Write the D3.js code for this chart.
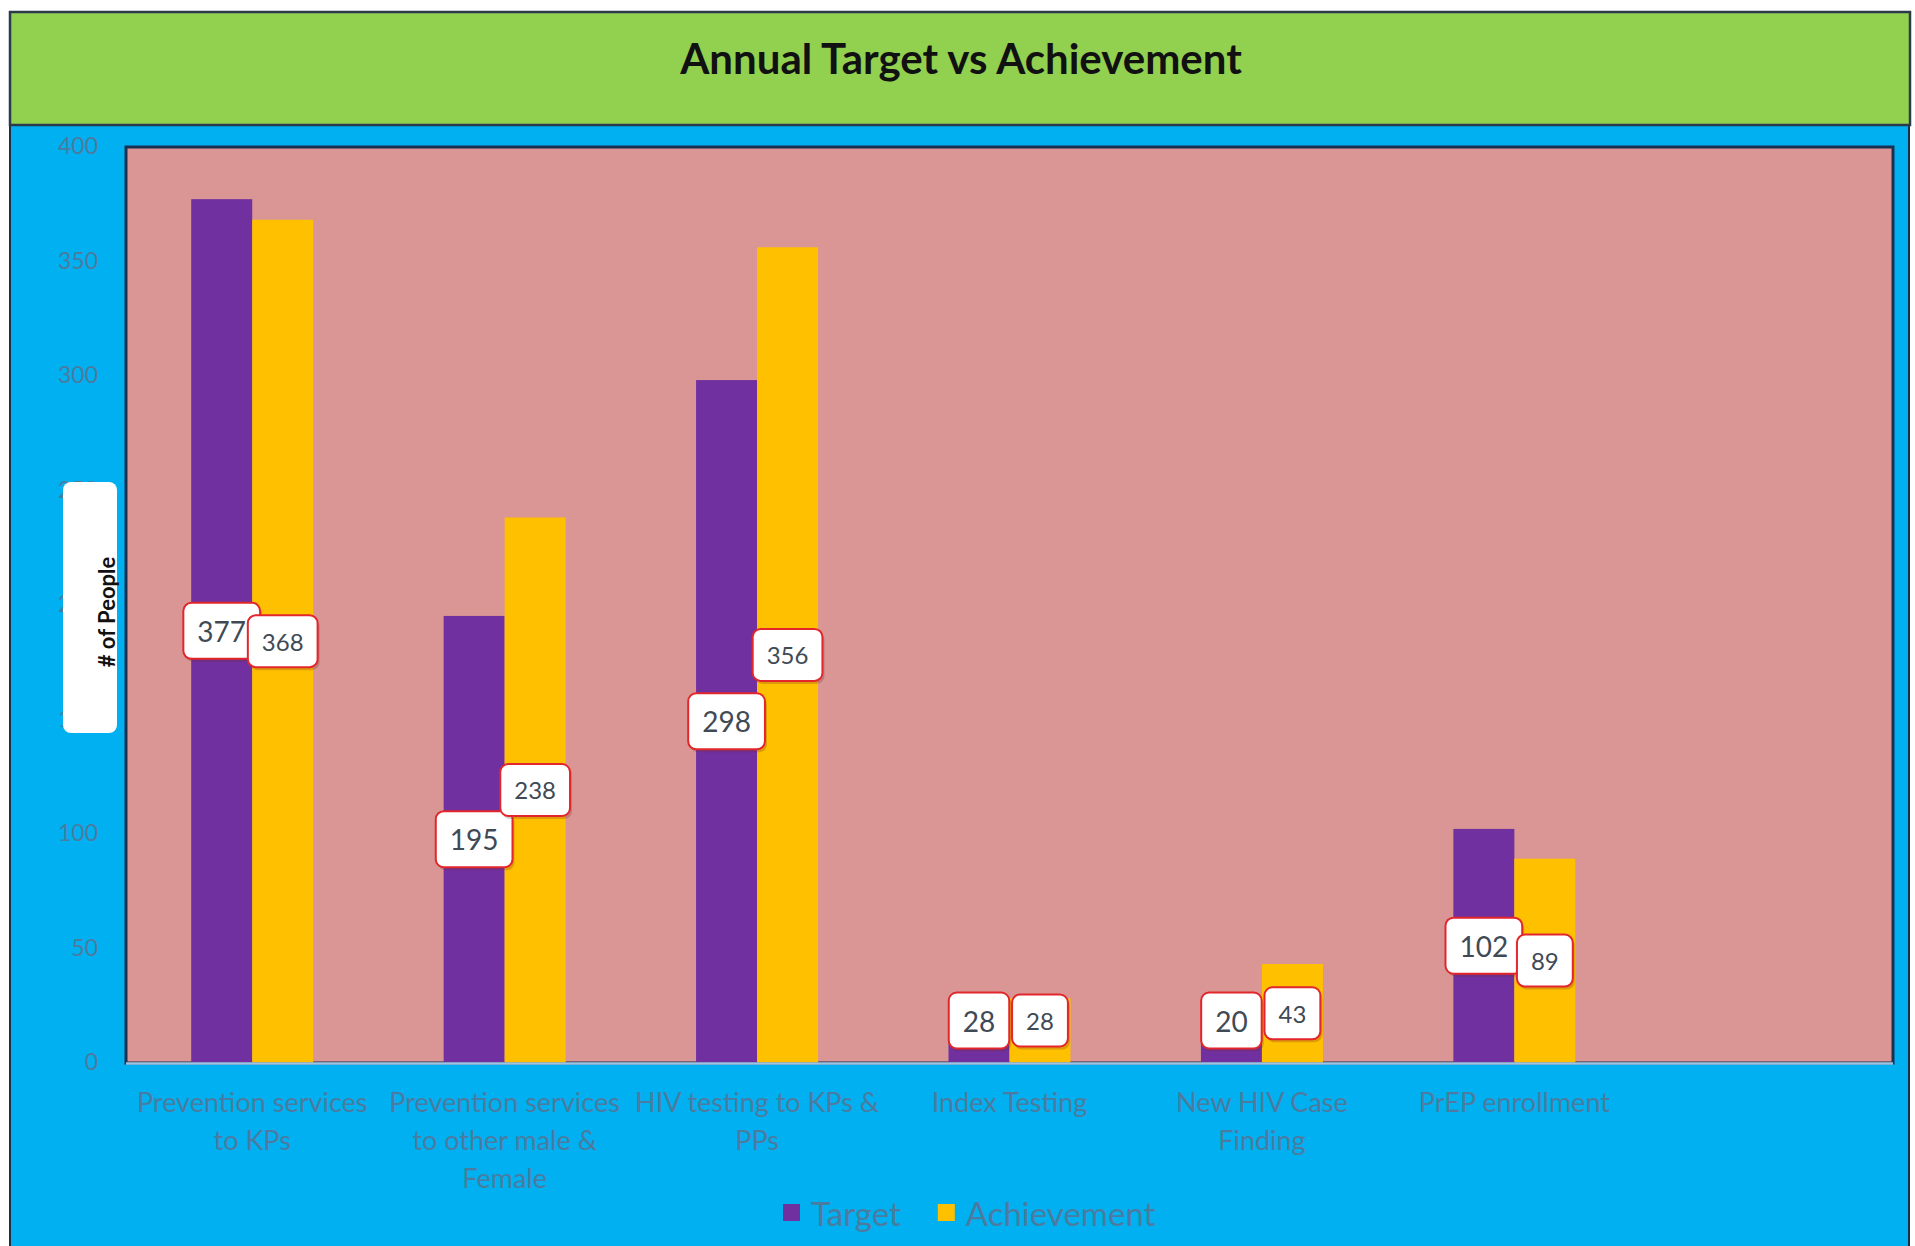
<!DOCTYPE html>
<html>
<head>
  <meta charset="utf-8">
  <title>Annual Target vs Achievement</title>
  <script src="https://cdn.jsdelivr.net/npm/d3@7/dist/d3.min.js"></script>
  <style>
    body { margin: 0; background: #ffffff; }
    svg { display: block; }
    text { font-family: Lato, "Open Sans", sans-serif; }
  </style>
</head>
<body>
<div id="chart"></div>
<script>
  // data
  var categories = [
    "Prevention services\nto KPs",
    "Prevention services\nto other male &\nFemale",
    "HIV testing to KPs &\nPPs",
    "Index Testing",
    "New HIV Case\nFinding",
    "PrEP enrollment",
    ""
  ]
  var target = [377, 195, 298, 28, 20, 102]
  var achievement = [368, 238, 356, 28, 43, 89]
  var seriesNames = ["Target", "Achievement"]
  var yTicks = [0, 50, 100, 150, 200, 250, 300, 350, 400]

  var W = 1915, H = 1246
  var plot = { left: 126, right: 1893, top: 147, bottom: 1063 }
  var colors = { Target: "#7030A0", Achievement: "#FFC000" }
  var labelColor = "#4c7ba0"

  var svg = d3.select("#chart").append("svg")
      .attr("width", W).attr("height", H)

  // blue chart body + green title band
  svg.append("rect").attr("x", 10).attr("y", 125).attr("width", 1899).attr("height", H - 120)
      .attr("fill", "#00B0F0").attr("stroke", "#1d2f45").attr("stroke-width", 2)
  svg.append("rect").attr("x", 10).attr("y", 12).attr("width", 1900).attr("height", 113)
      .attr("fill", "#92D050").attr("stroke", "#2b3b4b").attr("stroke-width", 2.5)
  svg.append("text")
      .attr("x", 961).attr("y", 58)
      .attr("text-anchor", "middle").attr("dominant-baseline", "central")
      .attr("font-size", 42).attr("font-weight", "bold").attr("fill", "#111")
      .text("Annual Target vs Achievement")

  // plot area
  svg.append("rect")
      .attr("x", plot.left).attr("y", plot.top)
      .attr("width", plot.right - plot.left).attr("height", plot.bottom - plot.top)
      .attr("fill", "#D99694").attr("stroke", "#1a3050").attr("stroke-width", 3)

  var y = d3.scaleLinear().domain([0, 400]).range([plot.bottom - 0.5, plot.top - 0.5])
  var x0 = d3.scaleBand().domain(d3.range(categories.length)).range([plot.left, plot.right])
  var pair = 122
  var x1 = d3.scaleBand().domain(seriesNames)
      .range([(x0.bandwidth() - pair) / 2, (x0.bandwidth() + pair) / 2])

  // y axis (labels only)
  var yAxis = svg.append("g")
      .attr("transform", "translate(" + (plot.left - 28) + ",0)")
      .call(d3.axisLeft(y).tickValues(yTicks).tickSize(0).tickPadding(0))
  yAxis.select(".domain").remove()
  yAxis.selectAll("text").attr("font-size", 23).attr("fill", labelColor)
      .attr("font-family", "Lato, sans-serif")

  // bars
  var rows = target.map(function(d, i) {
    return { i: i, Target: d, Achievement: achievement[i] }
  })
  var groups = svg.append("g").selectAll("g")
      .data(rows).enter().append("g")
      .attr("transform", function(d) { return "translate(" + x0(d.i) + ",0)" })

  groups.selectAll("rect")
      .data(function(d) { return seriesNames.map(function(k) { return { key: k, value: d[k] } }) })
      .enter().append("rect")
      .attr("x", function(d) { return x1(d.key) })
      .attr("width", x1.bandwidth())
      .attr("y", function(d) { return y(d.value) })
      .attr("height", function(d) { return y(0) - y(d.value) })
      .attr("fill", function(d) { return colors[d.key] })

  // x axis line
  svg.append("line")
      .attr("x1", plot.left).attr("x2", plot.right)
      .attr("y1", y(0) + 1).attr("y2", y(0) + 1)
      .attr("stroke", "#9fc4e2").attr("stroke-width", 2.5)

  // category labels
  var xl = svg.append("g").selectAll("text")
      .data(categories).enter().append("text")
      .attr("x", function(d, i) { return x0(i) + x0.bandwidth() / 2 })
      .attr("y", 1103)
      .attr("text-anchor", "middle")
      .attr("font-size", 27).attr("fill", labelColor)
  xl.each(function(d) {
    var t = d3.select(this)
    d.split("\n").forEach(function(line, k) {
      t.append("tspan").attr("x", t.attr("x")).attr("y", 1112 + k * 38).text(line)
    })
  })

  // data labels
  var labelFont = { Target: 28, Achievement: 24 }
  seriesNames.forEach(function(key) {
    var vals = key === "Target" ? target : achievement
    vals.forEach(function(v, i) {
      var fs = labelFont[key]
      var cx = x0(i) + x1(key) + x1.bandwidth() / 2
      var cy = Math.min(y(v / 2), y(0) - 42)
      var g = svg.append("g")
      var txt = g.append("text")
          .attr("x", cx).attr("y", cy)
          .attr("text-anchor", "middle").attr("dominant-baseline", "central")
          .attr("font-size", fs).attr("fill", "#404a55")
          .text(v)
      var tw = txt.node().getComputedTextLength()
      var bw = tw + 28, bh = fs + 28
      g.insert("rect", "text")
          .attr("x", cx - bw / 2 + 2).attr("y", cy - bh / 2 + 3)
          .attr("width", bw).attr("height", bh).attr("rx", 8)
          .attr("fill", "rgba(120,40,40,0.25)")
      g.insert("rect", "text")
          .attr("x", cx - bw / 2).attr("y", cy - bh / 2)
          .attr("width", bw).attr("height", bh).attr("rx", 8)
          .attr("fill", "#ffffff").attr("stroke", "#e2262b").attr("stroke-width", 2)
    })
  })

  // y axis title box
  svg.append("rect")
      .attr("x", 63).attr("y", 482).attr("width", 54).attr("height", 251).attr("rx", 8)
      .attr("fill", "#ffffff")
  svg.append("text")
      .attr("transform", "translate(106,612) rotate(-90)")
      .attr("text-anchor", "middle").attr("dominant-baseline", "central")
      .attr("font-size", 22).attr("font-weight", "bold").attr("fill", "#111")
      .text("# of People")

  // legend
  var lx = 783, ly = 1213
  seriesNames.forEach(function(key) {
    svg.append("rect").attr("x", lx).attr("y", ly - 9).attr("width", 17).attr("height", 17)
        .attr("fill", colors[key])
    var t = svg.append("text").attr("x", lx + 28).attr("y", ly)
        .attr("dominant-baseline", "central")
        .attr("font-size", 33).attr("fill", labelColor).text(key)
    lx = lx + 28 + t.node().getComputedTextLength() + 37
  })
</script>
</body>
</html>
